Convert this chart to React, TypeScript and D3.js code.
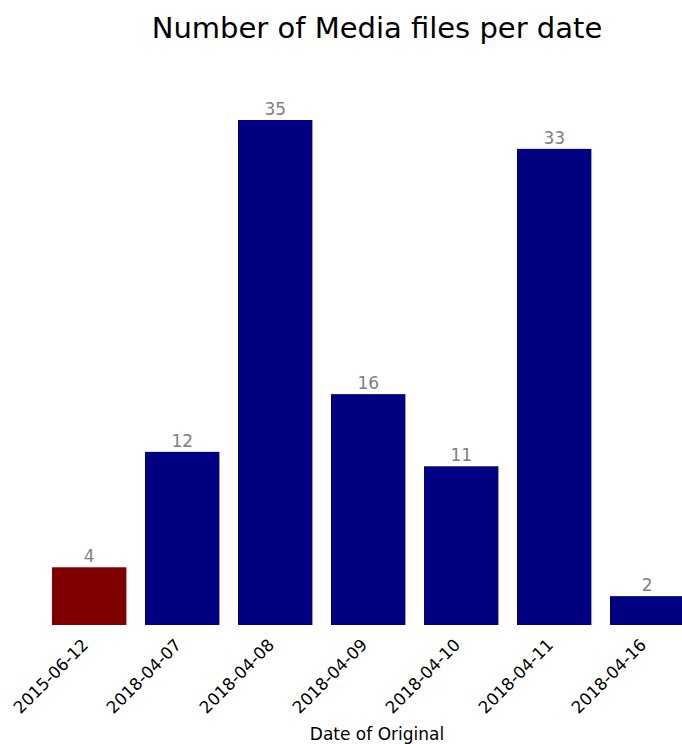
import React from "react";
import * as d3 from "d3";

const dates = ["2015-06-12", "2018-04-07", "2018-04-08", "2018-04-09", "2018-04-10", "2018-04-11", "2018-04-16"];
const counts = [4, 12, 35, 16, 11, 33, 2];
const barColors = ["#800000", "#000080", "#000080", "#000080", "#000080", "#000080", "#000080"];
const title = "Number of Media files per date";
const xLabel = "Date of Original";

const W = 682;
const H = 744;
const FONT = "DejaVu Sans, sans-serif";

export default function App() {
  const x = d3.scaleBand<string>().domain(dates).range([42.7, 693.7]).paddingInner(0.2).paddingOuter(0.1);
  const y = d3.scaleLinear().domain([0, 35]).range([625, 120]);
  const centerX = 377;

  return (
    <svg width={W} height={H} style={{ position: "absolute", left: 0, top: 0 }}>
      <rect width={W} height={H} fill="#ffffff" />
      <text x={centerX} y={38} textAnchor="middle" fontFamily={FONT} fontSize={29} fill="#000">
        {title}
      </text>
      {dates.map((d, i) => (
        <g key={d}>
          <rect
            x={x(d)!}
            y={y(counts[i])}
            width={x.bandwidth()}
            height={y(0) - y(counts[i])}
            fill={barColors[i]}
          />
          <text
            x={x(d)! + x.bandwidth() / 2}
            y={y(counts[i]) - 5}
            textAnchor="middle"
            fontFamily={FONT}
            fontSize={17}
            fill="#808080"
          >
            {counts[i]}
          </text>
          <text
            transform={`translate(${x(d)! + x.bandwidth() / 2},${646}) rotate(-45)`}
            textAnchor="end"
            fontFamily={FONT}
            fontSize={16.7}
            fill="#000"
          >
            {d}
          </text>
        </g>
      ))}
      <text x={centerX} y={740} textAnchor="middle" fontFamily={FONT} fontSize={17} fill="#000">
        {xLabel}
      </text>
    </svg>
  );
}
